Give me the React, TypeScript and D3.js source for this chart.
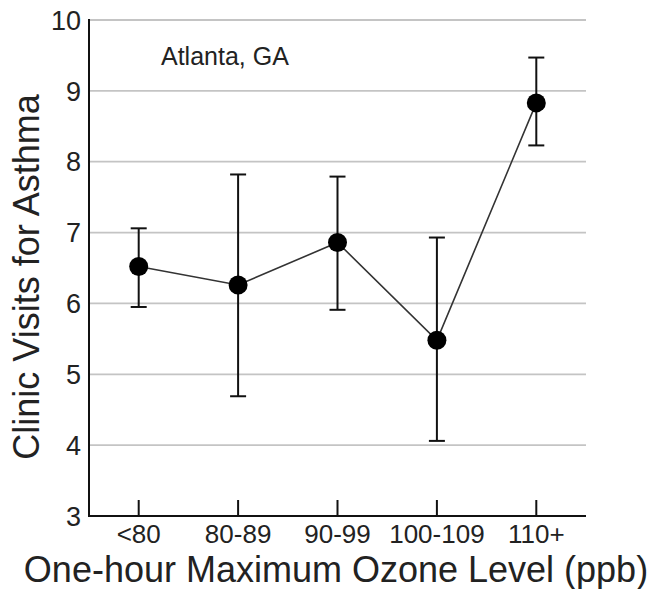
import React from "react"
import * as d3 from "d3"

const categories = ["<80", "80-89", "90-99", "100-109", "110+"]
const means = [6.52, 6.26, 6.86, 5.48, 8.83]
const upper = [7.06, 7.82, 7.79, 6.93, 9.47]
const lower = [5.95, 4.69, 5.91, 4.06, 8.23]
const yTicks = [3, 4, 5, 6, 7, 8, 9, 10]

const width = 657
const height = 589
const left = 89
const right = 586
const top = 20
const bottom = 516

const font = "'Liberation Sans', Arial, sans-serif"

export default function App() {
    const x = d3.scalePoint().domain(categories).range([left, right]).padding(0.5)
    const y = d3.scaleLinear().domain([3, 10]).range([bottom, top])

    const line = d3
        .line<number>()
        .x((d, i) => x(categories[i])!)
        .y(d => y(d))

    return (
        <svg width={width} height={height} style={{ position: "absolute", left: 0, top: 0, background: "#fff" }}>
            {/* grid */}
            {yTicks.slice(1).map(t => (
                <line key={t} x1={left} x2={right} y1={y(t)} y2={y(t)} stroke="#c4c4c4" strokeWidth={1.8} />
            ))}
            {/* axes */}
            <line x1={left} x2={left} y1={top - 1} y2={bottom + 1} stroke="#111" strokeWidth={2} />
            <line x1={left - 1} x2={right} y1={bottom} y2={bottom} stroke="#111" strokeWidth={2} />
            {categories.map(c => (
                <line key={c} x1={x(c)} x2={x(c)} y1={bottom} y2={bottom - 16} stroke="#111" strokeWidth={2} />
            ))}
            {yTicks.map(t => (
                <text key={t} x={81} y={y(t)} dy="0.36em" textAnchor="end" fontFamily={font} fontSize={27} fill="#222">
                    {t}
                </text>
            ))}
            {categories.map(c => (
                <text key={c} x={x(c)} y={543} textAnchor="middle" fontFamily={font} fontSize={26} fill="#222">
                    {c}
                </text>
            ))}
            {/* connecting line */}
            <path d={line(means)!} fill="none" stroke="#333" strokeWidth={1.6} />
            {/* error bars */}
            {categories.map((c, i) => (
                <g key={c} stroke="#111" strokeWidth={2}>
                    <line x1={x(c)} x2={x(c)} y1={y(upper[i])} y2={y(lower[i])} />
                    <line x1={x(c)! - 8} x2={x(c)! + 8} y1={y(upper[i])} y2={y(upper[i])} />
                    <line x1={x(c)! - 8} x2={x(c)! + 8} y1={y(lower[i])} y2={y(lower[i])} />
                </g>
            ))}
            {categories.map((c, i) => (
                <circle key={c} cx={x(c)} cy={y(means[i])} r={9.5} fill="#000" />
            ))}
            <text x={161} y={65} fontFamily={font} fontSize={25} fill="#222">
                Atlanta, GA
            </text>
            <text x={336} y={581.5} textAnchor="middle" fontFamily={font} fontSize={36} fill="#222">
                One-hour Maximum Ozone Level (ppb)
            </text>
            <text
                transform={`translate(39,${277}) rotate(-90)`}
                textAnchor="middle"
                fontFamily={font}
                fontSize={36}
                fill="#222"
            >
                Clinic Visits for Asthma
            </text>
        </svg>
    )
}
